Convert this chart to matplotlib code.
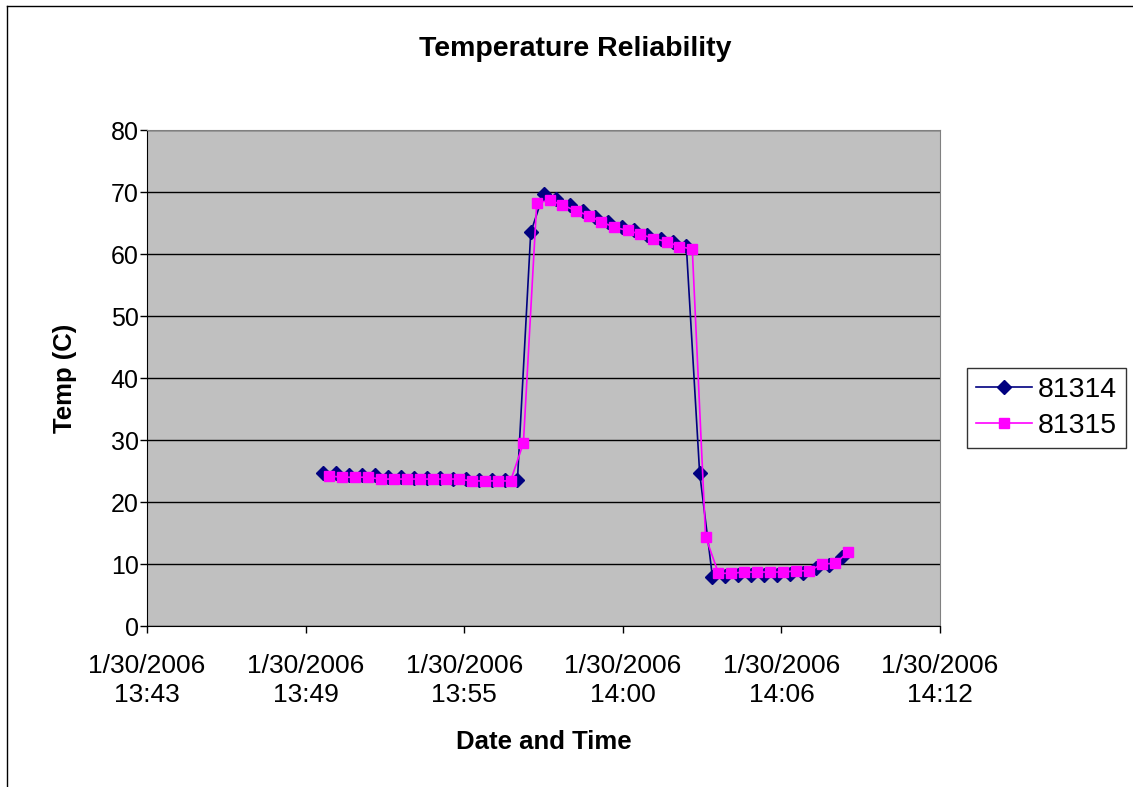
import matplotlib
matplotlib.use('Agg')
import matplotlib.pyplot as plt
from matplotlib.lines import Line2D

plt.rcParams['font.family'] = ['Liberation Sans', 'DejaVu Sans']

# Logged readings for the two sensors (time of day, temperature in C)
times_81314 = ["13:50:04", "13:50:32", "13:51:01", "13:51:29", "13:51:57", "13:52:26",
               "13:52:54", "13:53:22", "13:53:50", "13:54:19", "13:54:47", "13:55:15",
               "13:55:44", "13:56:12", "13:56:40", "13:57:08", "13:57:37", "13:58:05",
               "13:58:33", "13:59:02", "13:59:30", "13:59:58", "14:00:26", "14:00:55",
               "14:01:23", "14:01:51", "14:02:20", "14:02:48", "14:03:16", "14:03:45",
               "14:04:13", "14:04:41", "14:05:09", "14:05:38", "14:06:06", "14:06:34",
               "14:07:03", "14:07:31", "14:07:59", "14:08:27", "14:08:56"]
temps_81314 = [24.6, 24.6, 24.4, 24.3, 24.3, 24.1, 24.0, 23.9, 23.8, 23.8, 23.7, 23.7,
               23.6, 23.6, 23.5, 23.5, 63.5, 69.7, 68.8, 67.9, 67.0, 66.0, 65.2, 64.4,
               63.8, 63.1, 62.5, 61.9, 61.3, 24.7, 7.9, 8.0, 8.2, 8.2, 8.2, 8.2,
               8.4, 8.5, 9.4, 9.8, 11.1]

times_81315 = ["13:50:17", "13:50:45", "13:51:14", "13:51:42", "13:52:10", "13:52:39",
               "13:53:07", "13:53:35", "13:54:03", "13:54:32", "13:55:00", "13:55:28",
               "13:55:57", "13:56:25", "13:56:53", "13:57:21", "13:57:50", "13:58:18",
               "13:58:46", "13:59:15", "13:59:43", "14:00:11", "14:00:39", "14:01:08",
               "14:01:36", "14:02:04", "14:02:33", "14:03:01", "14:03:29", "14:03:58",
               "14:04:26", "14:04:54", "14:05:22", "14:05:51", "14:06:19", "14:06:47",
               "14:07:16", "14:07:44", "14:08:12", "14:08:40", "14:09:09"]
temps_81315 = [24.2, 24.0, 24.0, 24.0, 23.7, 23.7, 23.7, 23.7, 23.7, 23.7, 23.7, 23.4,
               23.4, 23.4, 23.4, 29.5, 68.2, 68.7, 67.9, 67.0, 66.2, 65.2, 64.3, 63.8,
               63.2, 62.5, 62.0, 61.2, 60.8, 14.4, 8.5, 8.5, 8.7, 8.7, 8.7, 8.7,
               8.9, 8.9, 10.0, 10.1, 11.9]

# Excel-style axis: fraction of a day, ticks every 0.004 day
x_ticks = [0.572, 0.576, 0.580, 0.584, 0.588, 0.592]
x_tick_labels = ["1/30/2006\n13:43", "1/30/2006\n13:49", "1/30/2006\n13:55",
                 "1/30/2006\n14:00", "1/30/2006\n14:06", "1/30/2006\n14:12"]


def day_fraction(t):
    h, m, s = (int(p) for p in t.split(':'))
    return (h * 3600 + m * 60 + s) / 86400.0


x1 = [day_fraction(t) for t in times_81314]
x2 = [day_fraction(t) for t in times_81315]

fig = plt.figure(figsize=(11.33, 7.87), dpi=100)
ax = fig.add_axes([147 / 1133, 1 - 626 / 787, (940 - 147) / 1133, (626 - 130) / 787])
ax.set_facecolor('#C0C0C0')

ax.plot(x1, temps_81314, color='#000080', lw=1.2, marker='D', ms=7,
        label='81314', zorder=3)
ax.plot(x2, temps_81315, color='#FF00FF', lw=1.2, marker='s', ms=7.5,
        label='81315', zorder=4)

ax.set_xlim(0.572, 0.592)
ax.set_ylim(0, 80)
ax.set_yticks(range(0, 81, 10))
ax.set_xticks(x_ticks)
ax.set_xticklabels(x_tick_labels, fontsize=19, linespacing=1.3)
ax.tick_params(axis='y', labelsize=18, length=5, width=1, pad=1)
ax.tick_params(axis='x', length=5, width=1, pad=15)
ax.yaxis.grid(True, color='black', lw=1)
ax.set_axisbelow(True)

for side in ['top', 'right']:
    ax.spines[side].set_color('#808080')
for side in ['left', 'bottom']:
    ax.spines[side].set_color('black')

fig.text(575 / 1133, 1 - 49 / 787, 'Temperature Reliability', fontsize=20.5,
         fontweight='bold', ha='center', va='center')
ax.set_ylabel('Temp (C)', fontsize=18.5, fontweight='bold', labelpad=24)
ax.set_xlabel('Date and Time', fontsize=18.5, fontweight='bold', labelpad=16)

leg = fig.legend(loc='center left', bbox_to_anchor=(967 / 1133, 1 - 408 / 787),
                 fontsize=20.5, frameon=True, fancybox=False, edgecolor='black',
                 handlelength=2.0, handletextpad=0.2, borderpad=0.3,
                 labelspacing=0.35, borderaxespad=0)
leg.get_frame().set_linewidth(1)

# chart area border
fig.add_artist(Line2D([7 / 1133, 1], [1 - 6 / 787, 1 - 6 / 787], color='black', lw=1))
fig.add_artist(Line2D([7 / 1133, 7 / 1133], [0, 1 - 6 / 787], color='black', lw=1))

fig.savefig('out.png', dpi=100)
